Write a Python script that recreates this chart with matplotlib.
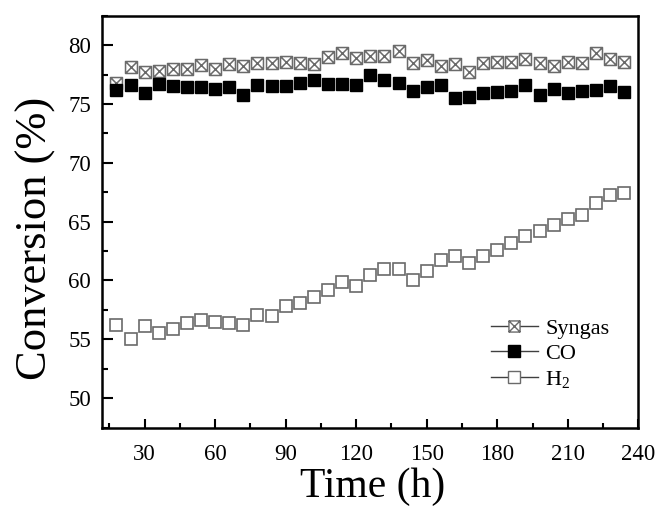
import matplotlib
matplotlib.use("Agg")
import matplotlib.pyplot as plt
from matplotlib.path import Path
from matplotlib.lines import Line2D
from matplotlib.ticker import MultipleLocator

plt.rcParams['font.family'] = ['Liberation Serif', 'DejaVu Serif']
plt.rcParams['mathtext.fontset'] = 'custom'
plt.rcParams['mathtext.rm'] = 'Liberation Serif'
plt.rcParams['mathtext.it'] = 'Liberation Serif:italic'

# ---- data ----
time_h = list(range(18, 235, 6))
syngas = [76.8, 78.1, 77.7, 77.8, 78.0, 78.0, 78.3, 78.0, 78.4, 78.2, 78.5, 78.5, 78.6, 78.5, 78.4,
          79.0, 79.3, 78.9, 79.1, 79.1, 79.5, 78.5, 78.7, 78.2, 78.4, 77.7, 78.5, 78.6, 78.6, 78.8,
          78.5, 78.2, 78.6, 78.5, 79.3, 78.8, 78.6]
co = [76.2, 76.6, 75.9, 76.7, 76.5, 76.4, 76.4, 76.3, 76.4, 75.8, 76.6, 76.5, 76.5, 76.8, 77.0,
      76.7, 76.7, 76.6, 77.5, 77.0, 76.8, 76.1, 76.4, 76.6, 75.5, 75.6, 75.9, 76.0, 76.1, 76.6,
      75.8, 76.3, 75.9, 76.1, 76.2, 76.5, 76.0]
h2 = [56.2, 55.0, 56.1, 55.5, 55.9, 56.4, 56.6, 56.5, 56.4, 56.2, 57.1, 57.0, 57.8, 58.1, 58.6,
      59.2, 59.9, 59.5, 60.5, 61.0, 61.0, 60.0, 60.8, 61.7, 62.1, 61.5, 62.1, 62.6, 63.2, 63.8,
      64.2, 64.7, 65.2, 65.6, 66.6, 67.3, 67.4]
labels = ['Syngas', 'CO', 'H$_2$']
xticks = [30, 60, 90, 120, 150, 180, 210, 240]
yticks = [50, 55, 60, 65, 70, 75, 80]

# square with an X inside
box_x = Path([(-1, -1), (1, -1), (1, 1), (-1, 1), (-1, -1),
              (-1, -1), (1, 1), (-1, 1), (1, -1)],
             [Path.MOVETO, Path.LINETO, Path.LINETO, Path.LINETO, Path.CLOSEPOLY,
              Path.MOVETO, Path.LINETO, Path.MOVETO, Path.LINETO])

W, H = 670, 513
fig = plt.figure(figsize=(W / 100, H / 100), dpi=100)
ax = fig.add_axes([102.3 / W, 1 - 427.5 / H, (638.3 - 102.3) / W, (427.5 - 15.7) / H])

gray = '#6a6a6a'
ms = 8.6
ax.plot(time_h, syngas, linestyle='none', marker=box_x, markersize=ms,
        markerfacecolor='white', markeredgecolor=gray, markeredgewidth=1.1, zorder=3)
ax.plot(time_h, co, linestyle='none', marker='s', markersize=ms,
        markerfacecolor='black', markeredgecolor='black', markeredgewidth=1.0, zorder=4)
ax.plot(time_h, h2, linestyle='none', marker='s', markersize=ms,
        markerfacecolor='white', markeredgecolor=gray, markeredgewidth=1.2, zorder=3)

ax.set_xlim(12, 240)
ax.set_ylim(47.5, 82.5)
ax.set_xticks(xticks)
ax.set_yticks(yticks)
ax.xaxis.set_minor_locator(MultipleLocator(15))
ax.yaxis.set_minor_locator(MultipleLocator(2.5))
ax.tick_params(which='both', direction='in', top=False, right=False, width=1.5, labelsize=16.5)
ax.tick_params(axis='y', which='major', length=8, pad=8)
ax.tick_params(axis='y', which='minor', length=4.5)
ax.tick_params(axis='x', which='major', length=6.5, pad=12)
ax.tick_params(axis='x', which='minor', length=3.5)
for s in ax.spines.values():
    s.set_linewidth(1.8)

handles = [
    Line2D([], [], color='#404040', lw=1.0, marker=box_x, markersize=8, markerfacecolor='white',
           markeredgecolor=gray, markeredgewidth=1.0),
    Line2D([], [], color='#404040', lw=1.0, marker='s', markersize=8, markerfacecolor='black',
           markeredgecolor='black'),
    Line2D([], [], color='#404040', lw=1.0, marker='s', markersize=8, markerfacecolor='white',
           markeredgecolor=gray, markeredgewidth=1.0),
]
leg = ax.legend(handles, labels, loc='center left', bbox_to_anchor=(0.725, 0.1785),
                frameon=False, fontsize=16, handlelength=2.1, handletextpad=0.35,
                labelspacing=0.22, borderpad=0, borderaxespad=0)

fig.text(47 / W, 1 - 238 / H, 'Conversion (%)', rotation=90, rotation_mode='anchor',
         ha='center', va='baseline', fontsize=32)
fig.text(373 / W, 1 - 496.7 / H, 'Time (h)', ha='center', va='baseline', fontsize=30)

fig.savefig('out.png', dpi=100)
